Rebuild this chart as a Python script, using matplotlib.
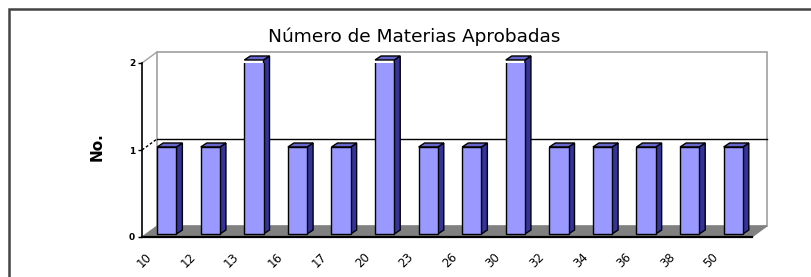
import matplotlib
matplotlib.use('Agg')
import matplotlib.pyplot as plt
from matplotlib.patches import Polygon, Rectangle
from matplotlib.lines import Line2D
from matplotlib.transforms import IdentityTransform, ScaledTranslation

# datos
materias = ['10', '12', '13', '16', '17', '20', '23', '26', '30', '32', '34', '36', '38', '50']
cantidad = [1, 1, 2, 1, 1, 2, 1, 1, 2, 1, 1, 1, 1, 1]
marcas_y = [0, 1, 2]
titulo = 'Número de Materias Aprobadas'

# colores estilo Excel
frente = '#9999ff'
lado = '#333399'
tapa = '#6666cc'
piso = '#808080'
pared = '#a0a0a0'

W, H = 812, 277
fig = plt.figure(figsize=(W / 100, H / 100), dpi=100)
fig.patch.set_facecolor('white')

ax = fig.add_axes([142 / W, 40 / H, 610 / W, 174 / H])
ax.set_xlim(-0.5, len(materias) - 0.5)
ax.set_ylim(0, 2)
ax.patch.set_visible(False)

ident = IdentityTransform()
DX, DY = 15, 11      # profundidad del grafico (px)
BX, BY = 3, 3        # desplazamiento de las barras
PX, PY = 6, 4        # profundidad de cada barra


def disp(x, y, t, dx=0, dy=0):
    px, py = t.transform((x, y))
    return (px + dx, py + dy)


# pared del fondo
ta = ax.transAxes
esquinas = [disp(0, 0, ta, DX, DY), disp(1, 0, ta, DX, DY),
            disp(1, 1, ta, DX, DY), disp(0, 1, ta, DX, DY)]
ax.add_patch(Polygon(esquinas, closed=True, transform=ident, facecolor='white',
                     edgecolor=pared, lw=1.2, zorder=0.5, clip_on=False))

# piso gris
suelo = [disp(0, 0, ta), disp(1, 0, ta), disp(1, 0, ta, DX, DY), disp(0, 0, ta, DX, DY)]
ax.add_patch(Polygon(suelo, closed=True, transform=ident, facecolor=piso,
                     edgecolor=piso, lw=0.8, zorder=0.6, clip_on=False))

# lineas de la pared lateral y cuadricula
for v in marcas_y[1:]:
    yv = v / 2
    p0 = disp(0, yv, ta)
    p1 = disp(0, yv, ta, DX, DY)
    if v == 2:
        ax.add_line(Line2D([p0[0], p1[0]], [p0[1], p1[1]], transform=ident,
                           color=pared, lw=1, zorder=0.7, clip_on=False))
    else:
        ax.add_line(Line2D([p0[0], p1[0]], [p0[1], p1[1]], transform=ident,
                           color='black', lw=1, ls=(0, (2, 1.5)), zorder=0.7, clip_on=False))
        p2 = disp(1, yv, ta, DX, DY)
        ax.add_line(Line2D([p1[0], p2[0]], [p1[1], p2[1]], transform=ident,
                           color='black', lw=1, zorder=0.7, clip_on=False))

# barras (cara frontal con ax.bar, lados con poligonos)
corr = ScaledTranslation(BX / 100, BY / 100, fig.dpi_scale_trans)
barras = ax.bar(range(len(materias)), cantidad, width=0.44, color=frente,
                edgecolor='black', linewidth=1, zorder=3)
td = ax.transData
for r in barras:
    r.set_transform(td + corr)
    x0, x1 = r.get_x(), r.get_x() + r.get_width()
    h = r.get_height()
    a = disp(x1, 0, td, BX, BY)
    b = disp(x1, h, td, BX, BY)
    c = disp(x0, h, td, BX, BY)
    cara_lado = [a, b, (b[0] + PX, b[1] + PY), (a[0] + PX, a[1] + PY)]
    cara_tapa = [c, b, (b[0] + PX, b[1] + PY), (c[0] + PX, c[1] + PY)]
    ax.add_patch(Polygon(cara_lado, closed=True, transform=ident, facecolor=lado,
                         edgecolor='black', lw=1, zorder=2.9, clip_on=False))
    ax.add_patch(Polygon(cara_tapa, closed=True, transform=ident, facecolor=tapa,
                         edgecolor='black', lw=1, zorder=2.9, clip_on=False))

# ejes
for s in ['top', 'right']:
    ax.spines[s].set_visible(False)
ax.spines['left'].set_color('black')
ax.spines['bottom'].set_color('black')
ax.spines['bottom'].set_linewidth(1.6)
ax.spines['left'].set_linewidth(1.2)
ax.set_yticks(marcas_y)
ax.set_yticklabels([str(v) for v in marcas_y], fontsize=6.5, fontweight='bold')
ax.tick_params(axis='y', length=3, width=1, pad=2)
ax.set_xticks([])

# etiquetas del eje x giradas
mover = ScaledTranslation(-0.19, -0.23, fig.dpi_scale_trans)
for i, lab in enumerate(materias):
    ax.text(i, 0, lab, transform=td + mover, rotation=45, ha='center', va='center',
            fontsize=8.5, clip_on=False)

# titulo y etiqueta del eje y
fig.text(414 / W, (H - 42) / H, titulo, ha='center', va='baseline', fontsize=13.3)
fig.text(97 / W, (H - 147) / H, 'No.', rotation=90, ha='center', va='center',
         fontsize=11, fontweight='bold')

# marco exterior
fig.add_artist(Rectangle((9, -30), 900, H - 9 + 30, transform=ident, fill=False,
                         edgecolor='#444444', lw=1.8))

fig.savefig('out.png', dpi=100)
